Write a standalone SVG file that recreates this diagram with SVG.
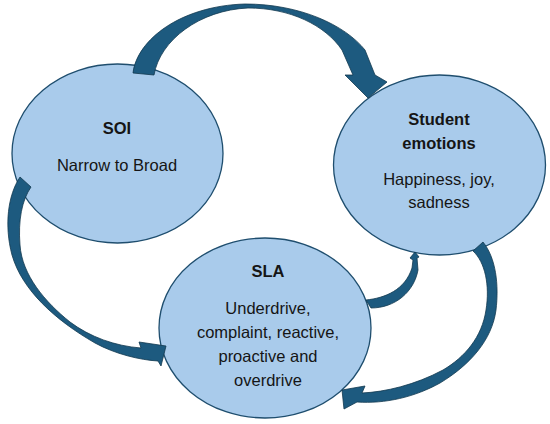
<svg xmlns="http://www.w3.org/2000/svg" width="550" height="424" viewBox="0 0 550 424">
<style>
.node{fill:#a9cbeb;stroke:#1f4e6e;stroke-width:1.3}
.arrow{fill:#1d5a7f;stroke:#12394f;stroke-width:0.8;stroke-linejoin:round}
text{font-family:"Liberation Sans",Arial,sans-serif;fill:#151515;text-anchor:middle}
.t{font-weight:bold;font-size:16.5px}
.b{font-size:16.5px}
</style>
<rect width="550" height="424" fill="#ffffff"/>
<g id="node-soi">
<ellipse class="node" cx="117.5" cy="153.5" rx="105.5" ry="89.5"/>
<text class="t" x="117" y="134">SOI</text>
<text class="b" x="117" y="171">Narrow to Broad</text>
</g>
<g id="node-student-emotions">
<ellipse class="node" cx="439.5" cy="165" rx="106" ry="90"/>
<text class="t" x="439" y="125">Student</text>
<text class="t" x="439" y="149">emotions</text>
<text class="b" x="439" y="185">Happiness, joy,</text>
<text class="b" x="439" y="208">sadness</text>
</g>
<g id="node-sla">
<ellipse class="node" cx="265" cy="328" rx="106" ry="90"/>
<text class="t" x="268" y="277">SLA</text>
<text class="b" x="268" y="314">Underdrive,</text>
<text class="b" x="268" y="338">complaint, reactive,</text>
<text class="b" x="268" y="362">proactive and</text>
<text class="b" x="268" y="386">overdrive</text>
</g>
<g id="connectors">
<path class="arrow" d="M133,73 C137,40 180,6 245,4 C300,4 345,25 365,50 L375,75 L387,82 L368,98 L345,75 L353,75 L342,50 C325,25 290,8 248,8 C200,10 160,40 154,75 Z"/>
<path class="arrow" d="M20,177 C8,195 4,225 12,255 C22,290 55,320 95,343 C115,354 140,360 158,361 L161,366 L166,346 L139,342 L141,348 C115,346 90,337 70,322 C45,302 22,275 20,245 C18,220 22,200 31,187 Z"/>
<path class="arrow" d="M473,251 L483,242 C496,258 499,285 496,310 C492,340 470,365 440,383 C415,397 385,404 357,402 L344,409 L342,390 L365,386 L362,393 C385,392 415,385 443,370 C465,357 482,337 486,310 C490,285 485,262 473,251 Z"/>
<path class="arrow" d="M366,300 C385,298 405,290 412,268 L413,260 L410,258 L415,252 L419,257 L417,258 L418,270 C414,292 395,308 371,308 Z"/>
</g>
</svg>
